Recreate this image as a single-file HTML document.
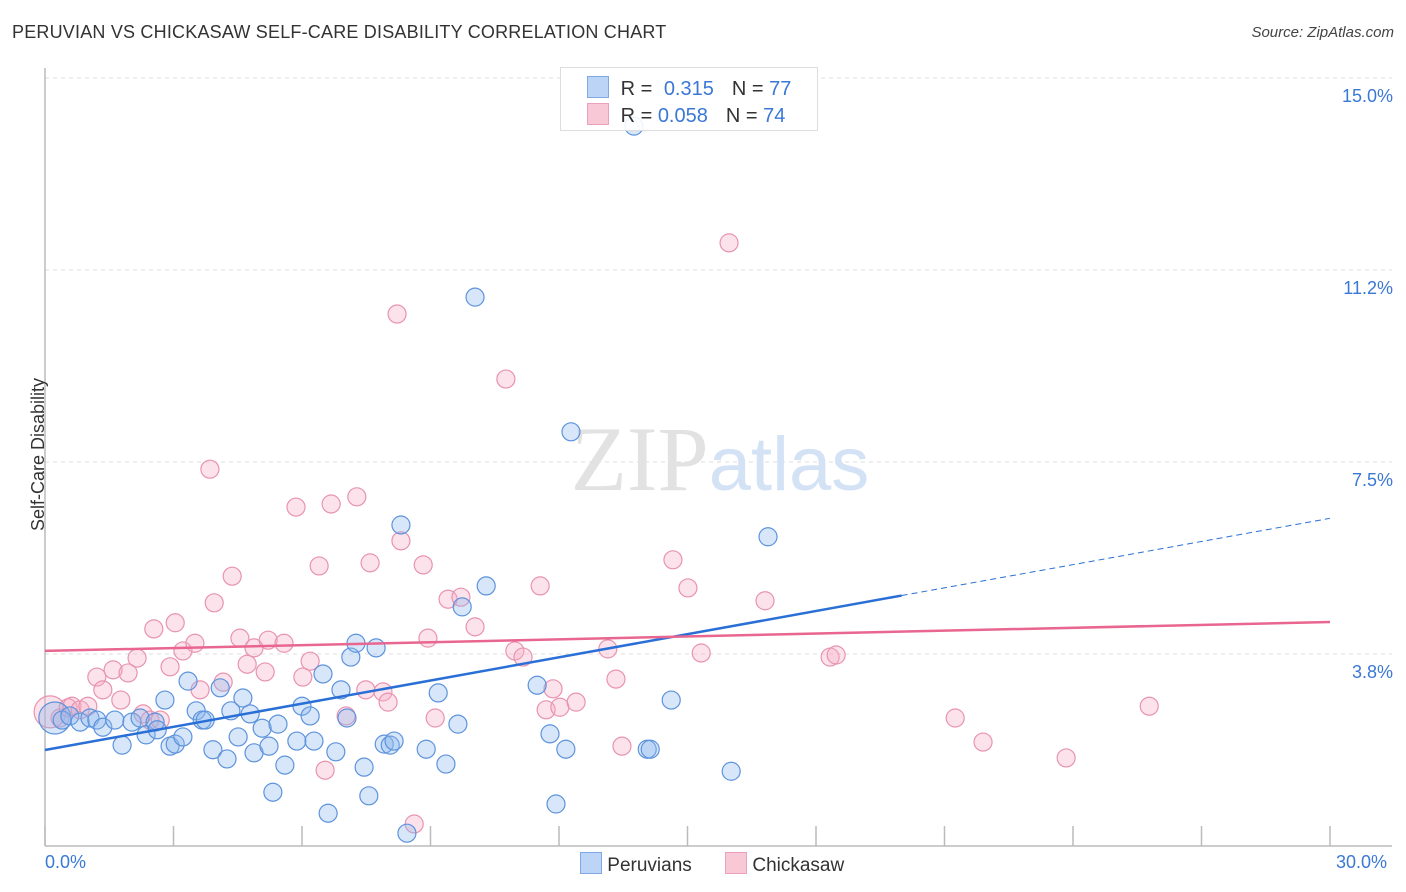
<!DOCTYPE html>
<html><head><meta charset="utf-8"><style>
body{margin:0;background:#fff;font-family:"Liberation Sans",sans-serif;}
#wrap{position:relative;width:1406px;height:892px;overflow:hidden;}
.t{position:absolute;white-space:nowrap;}
</style></head><body>
<div id="wrap">
<div class="t" style="left:12px;top:22px;font-size:18px;color:#333;letter-spacing:0.2px">PERUVIAN VS CHICKASAW SELF-CARE DISABILITY CORRELATION CHART</div>
<div class="t" style="right:12px;top:24px;font-size:15px;color:#444;font-style:italic">Source: ZipAtlas.com</div>
<svg id="svg" width="1406" height="892" style="position:absolute;left:0;top:0"></svg>
</div>
<script>
const blueX=[0.23,0.40,0.58,0.82,1.05,1.21,1.35,1.63,1.80,2.03,2.22,2.36,2.57,2.62,2.80,2.92,3.04,3.22,3.34,3.53,3.67,3.74,3.92,4.09,4.25,4.34,4.51,4.62,4.79,4.88,5.07,5.23,5.32,5.44,5.60,5.88,6.00,6.19,6.28,6.49,6.61,6.79,6.91,7.05,7.14,7.26,7.45,7.56,7.73,7.92,8.06,8.15,8.31,8.45,8.90,9.18,9.36,9.64,9.74,10.04,10.30,11.49,11.79,11.93,12.16,12.28,13.75,14.06,14.13,14.62,16.02,16.88];
const blueY=[2.50,2.46,2.54,2.42,2.50,2.46,2.32,2.46,1.97,2.42,2.50,2.17,2.42,2.27,2.85,1.95,1.99,2.13,3.22,2.64,2.46,2.46,1.88,3.09,1.70,2.64,2.13,2.89,2.58,1.82,2.30,1.95,1.05,2.38,1.58,2.05,2.73,2.54,2.05,3.36,0.64,1.84,3.05,2.50,3.69,3.96,1.54,0.98,3.87,1.99,1.97,2.05,6.27,0.25,1.89,2.99,1.60,2.38,4.67,10.72,5.08,3.14,2.19,0.82,1.89,8.09,14.06,1.89,1.89,2.85,1.46,6.04];
const pinkX=[0.12,0.35,0.54,0.63,0.82,1.00,1.21,1.35,1.59,1.77,1.94,2.15,2.29,2.45,2.54,2.69,2.92,3.04,3.22,3.50,3.62,3.85,3.95,4.16,4.37,4.55,4.72,4.88,5.14,5.21,5.58,5.86,6.02,6.19,6.40,6.54,6.68,7.03,7.28,7.49,7.59,7.89,8.01,8.22,8.31,8.62,8.83,8.94,9.11,9.41,9.71,10.04,10.76,10.97,11.16,11.56,11.70,11.86,12.02,12.40,13.14,13.33,13.47,14.66,15.01,15.32,15.97,16.81,18.33,18.47,21.25,21.90,23.84,25.78];
const pinkY=[2.62,2.50,2.70,2.73,2.66,2.73,3.30,3.05,3.44,2.85,3.38,3.67,2.58,2.46,4.24,2.46,3.50,4.36,3.81,3.96,3.05,7.36,4.75,3.20,5.27,4.06,3.55,3.87,3.40,4.02,3.96,6.62,3.30,3.61,5.47,1.48,6.68,2.54,6.82,3.05,5.53,3.01,2.81,10.39,5.96,0.43,5.49,4.06,2.50,4.82,4.86,4.28,9.12,3.81,3.69,5.08,2.66,3.07,2.71,2.81,3.85,3.26,1.95,5.59,5.04,3.77,11.78,4.79,3.69,3.73,2.50,2.03,1.72,2.73];
const yTicks=[3.75,7.5,11.25,15.0];
const yTickLabels=["3.8%","7.5%","11.2%","15.0%"];
const xTicks=[0,3,6,9,12,15,18,21,24,27,30];
const blueTrend=[1.875,6.4], blueSolidEnd=20.0;
const pinkTrend=[3.81,4.375];

const NS="http://www.w3.org/2000/svg";
const svg=document.getElementById('svg');
const X=v=>45+v*(1285/30);
const Y=v=>846-v*51.2;
function mk(tag,attrs,parent){const e=document.createElementNS(NS,tag);for(const k in attrs)e.setAttribute(k,attrs[k]);(parent||svg).appendChild(e);return e;}

yTicks.forEach((t,i)=>{
  const g=mk('line',{x1:45,x2:1392,y1:Y(t),y2:Y(t),stroke:'#ddd','stroke-dasharray':'4,4'});
  
  
  const tx=mk('text',{x:1393,y:Y(t)+24,'text-anchor':'end','font-size':18,fill:'#3a78d6','font-family':'Liberation Sans'});
  tx.textContent=yTickLabels[i];
  
  
});
const ax=mk('line',{x1:45,x2:45,y1:68,y2:846,stroke:'#bbb','stroke-width':1.5});


const bx=mk('line',{x1:45,x2:1392,y1:846,y2:846,stroke:'#bbb','stroke-width':1.5});


xTicks.forEach(t=>{
  const l=mk('line',{x1:X(t),x2:X(t),y1:826,y2:846,stroke:'#bbb','stroke-width':1.5});
  
  
});
const wm=mk('text',{x:720,y:490,'text-anchor':'middle','font-size':92,fill:'#e2e2e2','font-family':'Liberation Serif'});
wm.innerHTML='ZIP<tspan fill="#d3e2f5" font-family="Liberation Sans" font-size="76">atlas</tspan>';



function dots(xs,ys,fill,stroke,name){
  xs.forEach((x,i)=>{
    const c=mk('circle',{cx:X(x),cy:Y(ys[i]),r:(i===0?16:9),fill:fill,stroke:stroke,'stroke-width':1.2});
    
    
  });
}
dots(pinkX,pinkY,'rgba(246,172,197,0.35)','#e893b0','chickasaw-point');
dots(blueX,blueY,'rgba(140,182,238,0.35)','#5d93dc','peruvian-point');

const bl=(v)=>blueTrend[0]+(blueTrend[1]-blueTrend[0])*v/30;
const b1=mk('line',{x1:X(0),y1:Y(bl(0)),x2:X(blueSolidEnd),y2:Y(bl(blueSolidEnd)),stroke:'#2a6fd6','stroke-width':2.5});


const b2=mk('line',{x1:X(blueSolidEnd),y1:Y(bl(blueSolidEnd)),x2:X(30),y2:Y(bl(30)),stroke:'#2a6fd6','stroke-width':1,'stroke-dasharray':'6,4'});


const p1=mk('line',{x1:X(0),y1:Y(pinkTrend[0]),x2:X(30),y2:Y(pinkTrend[1]),stroke:'#e8668f','stroke-width':2.5});


</script>
<div class="t" style="left:-38px;top:444px;font-size:18px;color:#333;transform:rotate(-90deg)">Self-Care Disability</div>
<div class="t" style="left:45px;top:852px;font-size:18px;color:#3a78d6">0.0%</div>
<div class="t" style="left:1336px;top:852px;font-size:18px;color:#3a78d6">30.0%</div>
<div style="position:absolute;left:560px;top:67px;width:256px;height:62px;border:1px solid #ddd;background:rgba(255,255,255,0.9);font-size:20px;">
  <div style="position:absolute;left:26px;top:8px;white-space:nowrap">
    <span style="display:inline-block;width:20px;height:20px;background:#bcd4f6;border:1px solid #7fa8e3;vertical-align:-3px"></span>
    <span style="color:#333;margin-left:6px">R = </span><span style="color:#3a78d6;margin-left:6px">0.315</span><span style="color:#333;margin-left:18px">N = </span><span style="color:#3a78d6">77</span>
  </div>
  <div style="position:absolute;left:26px;top:35px;white-space:nowrap">
    <span style="display:inline-block;width:20px;height:20px;background:#f9c8d7;border:1px solid #eda0b9;vertical-align:-3px"></span>
    <span style="color:#333;margin-left:6px">R = </span><span style="color:#3a78d6">0.058</span><span style="color:#333;margin-left:18px">N = </span><span style="color:#3a78d6">74</span>
  </div>
</div>
<div style="position:absolute;left:580px;top:852px;font-size:19px;color:#333;white-space:nowrap">
  <span><span style="display:inline-block;width:20px;height:20px;background:#bcd4f6;border:1px solid #7fa8e3;vertical-align:-3px"></span> Peruvians</span>
  <span style="margin-left:28px"><span style="display:inline-block;width:20px;height:20px;background:#f9c8d7;border:1px solid #eda0b9;vertical-align:-3px"></span> Chickasaw</span>
</div>
</body></html>
